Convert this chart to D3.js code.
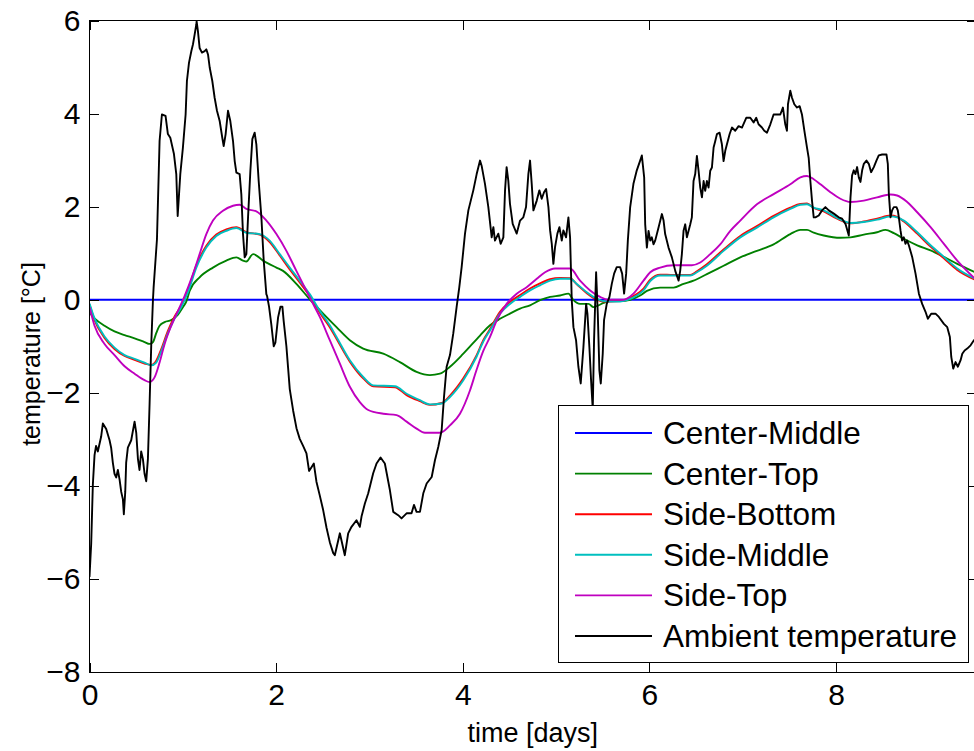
<!DOCTYPE html>
<html>
<head>
<meta charset="utf-8">
<script src="https://cdn.jsdelivr.net/npm/d3@7"></script>
<style>
  body { margin: 0; background: #fff; }
  svg { display: block; }
  text { font-family: "Liberation Sans", Arial, Helvetica, sans-serif; fill: #000; }
</style>
</head>
<body>
<svg id="chart" width="974" height="751"></svg>
<script>
// Axis ticks
const xTicks = [0, 2, 4, 6, 8];
const yTicks = [-8, -6, -4, -2, 0, 2, 4, 6];

// Series names (legend order = drawing order)
const seriesNames = ["Center-Middle", "Center-Top", "Side-Bottom", "Side-Middle", "Side-Top", "Ambient temperature"];

// Temperatures relative to the centre-middle sensor, [time in days, °C]
const centerMiddle = [[0, 0], [9.5, 0]];

const centerTop = [[0,-0.28],[0.054,-0.40],[0.161,-0.56],[0.268,-0.68],[0.376,-0.76],[0.483,-0.83],[0.59,-0.91],[0.644,-0.95],[0.68,-0.91],[0.715,-0.72],[0.751,-0.56],[0.805,-0.48],[0.876,-0.44],[0.948,-0.32],[1.001,-0.16],[1.037,-0.04],[1.073,0.19],[1.18,0.48],[1.323,0.69],[1.466,0.84],[1.574,0.91],[1.645,0.84],[1.681,0.82],[1.753,0.98],[1.86,0.84],[2.003,0.69],[2.074,0.62],[2.217,0.34],[2.36,0.01],[2.504,-0.30],[2.647,-0.59],[2.79,-0.87],[2.933,-1.05],[3.148,-1.16],[3.326,-1.34],[3.505,-1.55],[3.648,-1.62],[3.755,-1.59],[3.863,-1.44],[4.006,-1.16],[4.185,-0.77],[4.292,-0.55],[4.399,-0.41],[4.506,-0.30],[4.614,-0.19],[4.721,-0.12],[4.828,-0.01],[4.936,0.06],[5.043,0.09],[5.132,0.13],[5.186,-0.01],[5.257,-0.09],[5.347,-0.09],[5.401,-0.16],[5.454,-0.12],[5.508,-0.07],[5.579,-0.03],[5.686,-0.03],[5.794,0],[5.901,0.09],[5.973,0.19],[6.116,0.26],[6.259,0.26],[6.366,0.34],[6.473,0.41],[6.616,0.55],[6.795,0.73],[6.974,0.91],[7.152,1.05],[7.331,1.19],[7.51,1.41],[7.618,1.50],[7.689,1.50],[7.761,1.44],[7.868,1.38],[8.047,1.33],[8.155,1.34],[8.298,1.40],[8.44,1.45],[8.53,1.50],[8.62,1.43],[8.727,1.31],[8.87,1.17],[9.013,1.06],[9.156,0.92],[9.299,0.77],[9.5,0.58]];

const sideBottom = [[0,-0.10],[0.054,-0.44],[0.161,-0.82],[0.268,-1.06],[0.376,-1.21],[0.483,-1.29],[0.59,-1.37],[0.662,-1.40],[0.715,-1.31],[0.769,-1.06],[0.84,-0.67],[0.912,-0.36],[0.984,-0.12],[1.055,0.21],[1.145,0.74],[1.252,1.16],[1.359,1.40],[1.466,1.51],[1.574,1.56],[1.681,1.45],[1.824,1.40],[1.931,1.24],[2.039,0.95],[2.146,0.65],[2.253,0.37],[2.36,0.08],[2.468,-0.28],[2.575,-0.59],[2.647,-0.84],[2.79,-1.33],[2.933,-1.69],[3.04,-1.86],[3.273,-1.88],[3.398,-2.05],[3.541,-2.18],[3.648,-2.26],[3.774,-2.22],[3.863,-2.06],[4.006,-1.69],[4.149,-1.19],[4.22,-0.87],[4.292,-0.63],[4.399,-0.26],[4.506,-0.05],[4.614,0.10],[4.721,0.24],[4.828,0.35],[4.936,0.44],[5.043,0.47],[5.15,0.46],[5.222,0.33],[5.329,0.14],[5.436,0.00],[5.508,-0.04],[5.579,-0.04],[5.686,-0.03],[5.758,0.01],[5.865,0.12],[5.937,0.24],[6.009,0.43],[6.116,0.54],[6.259,0.53],[6.438,0.53],[6.509,0.61],[6.616,0.76],[6.795,1.08],[6.974,1.37],[7.152,1.58],[7.331,1.80],[7.51,1.98],[7.618,2.06],[7.689,2.07],[7.761,1.97],[7.868,1.90],[8.011,1.74],[8.155,1.64],[8.298,1.68],[8.44,1.74],[8.584,1.81],[8.655,1.78],[8.727,1.68],[8.87,1.42],[9.013,1.14],[9.156,0.89],[9.299,0.64],[9.5,0.42]];

const sideMiddle = [[0,-0.08],[0.054,-0.40],[0.161,-0.79],[0.268,-1.03],[0.376,-1.19],[0.483,-1.27],[0.59,-1.35],[0.662,-1.41],[0.715,-1.35],[0.769,-1.11],[0.84,-0.72],[0.912,-0.40],[0.984,-0.16],[1.055,0.16],[1.145,0.69],[1.252,1.12],[1.359,1.37],[1.466,1.48],[1.574,1.54],[1.681,1.44],[1.824,1.41],[1.931,1.27],[2.039,0.98],[2.146,0.69],[2.253,0.41],[2.36,0.12],[2.468,-0.24],[2.575,-0.55],[2.647,-0.80],[2.79,-1.30],[2.933,-1.66],[3.04,-1.84],[3.273,-1.86],[3.398,-2.02],[3.541,-2.16],[3.648,-2.25],[3.774,-2.23],[3.863,-2.09],[4.006,-1.73],[4.149,-1.22],[4.22,-0.90],[4.292,-0.66],[4.399,-0.30],[4.506,-0.09],[4.614,0.06],[4.721,0.20],[4.828,0.31],[4.936,0.41],[5.043,0.45],[5.15,0.45],[5.222,0.34],[5.329,0.16],[5.436,0.02],[5.508,-0.03],[5.579,-0.04],[5.686,-0.04],[5.758,-0.01],[5.865,0.09],[5.937,0.20],[6.009,0.40],[6.116,0.52],[6.259,0.52],[6.438,0.52],[6.509,0.59],[6.616,0.73],[6.795,1.05],[6.974,1.34],[7.152,1.55],[7.331,1.77],[7.51,1.95],[7.618,2.04],[7.689,2.05],[7.761,1.98],[7.868,1.92],[8.011,1.76],[8.155,1.65],[8.298,1.67],[8.44,1.72],[8.584,1.79],[8.655,1.77],[8.727,1.70],[8.87,1.45],[9.013,1.17],[9.156,0.92],[9.299,0.67],[9.5,0.44]];

const sideTop = [[0,-0.16],[0.054,-0.56],[0.161,-0.95],[0.268,-1.19],[0.376,-1.43],[0.483,-1.59],[0.59,-1.73],[0.644,-1.77],[0.697,-1.67],[0.751,-1.35],[0.805,-0.95],[0.876,-0.56],[0.948,-0.24],[1.019,0.08],[1.109,0.55],[1.18,0.98],[1.252,1.41],[1.323,1.70],[1.43,1.91],[1.538,2.02],[1.609,2.04],[1.681,1.95],[1.788,1.90],[1.896,1.70],[2.003,1.41],[2.11,1.05],[2.217,0.62],[2.325,0.19],[2.396,-0.09],[2.468,-0.37],[2.575,-0.87],[2.682,-1.37],[2.79,-1.87],[2.897,-2.20],[2.987,-2.37],[3.148,-2.45],[3.291,-2.48],[3.398,-2.62],[3.505,-2.77],[3.594,-2.86],[3.755,-2.86],[3.863,-2.70],[3.97,-2.45],[4.077,-1.95],[4.149,-1.50],[4.22,-1.10],[4.292,-0.80],[4.363,-0.45],[4.47,-0.09],[4.578,0.13],[4.685,0.27],[4.793,0.45],[4.882,0.59],[4.989,0.67],[5.15,0.67],[5.257,0.41],[5.365,0.20],[5.472,0.06],[5.561,0],[5.722,0],[5.829,0.13],[5.937,0.41],[6.009,0.59],[6.116,0.69],[6.259,0.74],[6.455,0.74],[6.545,0.80],[6.652,0.98],[6.759,1.19],[6.867,1.48],[6.974,1.70],[7.152,2.05],[7.331,2.27],[7.51,2.48],[7.618,2.63],[7.689,2.66],[7.761,2.59],[7.833,2.48],[7.94,2.31],[8.047,2.17],[8.155,2.10],[8.298,2.13],[8.44,2.20],[8.584,2.26],[8.655,2.24],[8.762,2.10],[8.87,1.88],[9.013,1.56],[9.156,1.20],[9.299,0.84],[9.5,0.43]];

const ambient = [[0,-5.96],[0.01,-5.56],[0.018,-5.25],[0.036,-3.97],[0.054,-3.34],[0.07,-3.14],[0.089,-3.26],[0.125,-2.94],[0.143,-2.66],[0.179,-2.78],[0.215,-3.02],[0.232,-3.18],[0.25,-3.5],[0.268,-3.74],[0.286,-3.82],[0.304,-3.66],[0.322,-3.86],[0.34,-4.13],[0.358,-4.29],[0.368,-4.61],[0.383,-4.13],[0.393,-3.5],[0.411,-3.18],[0.447,-3.02],[0.483,-2.62],[0.501,-2.86],[0.519,-3.42],[0.536,-3.66],[0.554,-3.26],[0.572,-3.42],[0.59,-3.74],[0.608,-3.9],[0.626,-3.42],[0.644,-2.23],[0.662,-0.95],[0.68,0],[0.687,0.26],[0.723,1.30],[0.751,3.41],[0.776,3.98],[0.815,3.95],[0.84,3.56],[0.866,3.48],[0.905,3.13],[0.93,2.70],[0.945,1.80],[0.973,2.70],[1.001,3.27],[1.03,3.98],[1.044,4.70],[1.066,5.09],[1.091,5.34],[1.109,5.49],[1.127,5.70],[1.145,5.92],[1.148,5.98],[1.162,5.77],[1.18,5.41],[1.205,5.31],[1.234,5.34],[1.252,5.38],[1.27,5.27],[1.288,4.99],[1.316,4.70],[1.341,4.34],[1.366,4.06],[1.395,3.84],[1.423,3.48],[1.438,3.30],[1.459,3.56],[1.484,4.06],[1.509,3.84],[1.538,3.41],[1.556,2.98],[1.574,2.73],[1.609,2.70],[1.627,2.27],[1.645,1.41],[1.663,0.91],[1.681,0.98],[1.699,1.77],[1.724,2.77],[1.745,3.45],[1.77,3.59],[1.788,3.34],[1.813,2.55],[1.842,1.77],[1.867,0.84],[1.895,0.12],[1.903,0.08],[1.924,-0.15],[1.949,-0.54],[1.974,-1.0],[1.992,-0.92],[2.021,-0.38],[2.046,-0.15],[2.067,-0.15],[2.081,-0.46],[2.11,-1.0],[2.128,-1.46],[2.146,-1.92],[2.182,-2.38],[2.218,-2.76],[2.253,-2.99],[2.289,-3.14],[2.325,-3.3],[2.353,-3.68],[2.379,-3.6],[2.404,-3.52],[2.432,-3.91],[2.468,-4.21],[2.504,-4.52],[2.54,-4.9],[2.575,-5.21],[2.611,-5.44],[2.629,-5.49],[2.683,-5.02],[2.736,-5.49],[2.772,-5.02],[2.808,-4.88],[2.861,-4.74],[2.897,-4.88],[2.915,-4.66],[2.951,-4.38],[2.987,-4.16],[3.04,-3.73],[3.076,-3.52],[3.119,-3.39],[3.165,-3.52],[3.219,-4.09],[3.255,-4.56],[3.308,-4.63],[3.344,-4.7],[3.398,-4.59],[3.451,-4.59],[3.477,-4.41],[3.505,-4.56],[3.541,-4.56],[3.577,-4.16],[3.613,-3.95],[3.667,-3.81],[3.702,-3.45],[3.738,-3.16],[3.774,-2.8],[3.799,-2.09],[3.827,-1.44],[3.863,-1.19],[3.898,-0.73],[3.934,-0.16],[3.963,0.27],[3.988,0.7],[4.024,1.42],[4.06,1.92],[4.113,2.35],[4.149,2.7],[4.185,2.99],[4.202,2.88],[4.238,2.49],[4.274,1.99],[4.31,1.34],[4.328,1.56],[4.345,1.27],[4.381,1.42],[4.406,1.2],[4.435,1.34],[4.453,2.35],[4.47,2.85],[4.488,2.56],[4.506,2.06],[4.535,1.63],[4.578,1.42],[4.614,1.7],[4.649,1.77],[4.678,1.99],[4.703,2.7],[4.721,2.99],[4.739,2.49],[4.757,1.92],[4.793,2.13],[4.821,2.35],[4.846,2.17],[4.871,2.31],[4.893,2.38],[4.918,1.99],[4.936,1.49],[4.954,1.2],[4.971,0.77],[4.989,1.13],[5.014,1.42],[5.036,1.56],[5.061,1.27],[5.078,1.49],[5.107,1.34],[5.132,1.77],[5.15,1.34],[5.168,-0.01],[5.186,-0.59],[5.214,-0.87],[5.239,-1.44],[5.264,-1.8],[5.293,-1.02],[5.322,-0.09],[5.336,-0.3],[5.357,-1.02],[5.375,-1.73],[5.393,-2.35],[5.407,-0.87],[5.429,0.59],[5.447,-0.3],[5.464,-1.52],[5.479,-1.8],[5.5,-1.16],[5.514,-0.44],[5.543,-0.09],[5.572,0.06],[5.597,0.34],[5.622,0.56],[5.65,0.7],[5.686,0.7],[5.708,0.56],[5.729,0.13],[5.751,0.56],[5.769,1.27],[5.794,1.99],[5.829,2.49],[5.865,2.78],[5.901,2.99],[5.919,3.1],[5.944,2.63],[5.955,1.62],[5.973,1.12],[5.991,1.48],[6.009,1.27],[6.026,1.34],[6.044,1.19],[6.062,1.27],[6.098,1.55],[6.134,1.84],[6.152,1.7],[6.169,1.41],[6.205,1.12],[6.241,0.91],[6.277,0.62],[6.313,0.41],[6.33,0.62],[6.348,0.98],[6.366,1.48],[6.384,1.62],[6.402,1.34],[6.438,1.62],[6.455,1.77],[6.473,2.55],[6.491,2.7],[6.509,3.09],[6.527,2.77],[6.545,2.41],[6.563,2.2],[6.581,2.55],[6.598,2.34],[6.616,2.55],[6.634,2.41],[6.652,2.77],[6.67,2.84],[6.688,3.27],[6.706,3.41],[6.724,3.56],[6.752,3.59],[6.777,3.34],[6.795,2.98],[6.813,3.2],[6.831,3.34],[6.86,3.56],[6.885,3.7],[6.92,3.63],[6.956,3.73],[6.992,3.7],[7.038,3.91],[7.081,3.91],[7.117,3.81],[7.145,3.91],[7.17,3.77],[7.206,3.7],[7.231,3.63],[7.26,3.59],[7.296,3.77],[7.331,3.98],[7.367,3.98],[7.403,3.98],[7.431,4.13],[7.456,3.77],[7.474,3.63],[7.485,4.2],[7.51,4.49],[7.528,4.34],[7.553,4.2],[7.582,4.13],[7.61,4.16],[7.635,3.98],[7.661,3.63],[7.689,3.27],[7.707,3.05],[7.725,2.55],[7.743,2.12],[7.761,1.77],[7.779,1.77],[7.815,1.81],[7.85,1.92],[7.886,1.99],[7.922,1.92],[7.976,1.85],[8.029,1.77],[8.065,1.74],[8.101,1.63],[8.137,1.38],[8.155,2.2],[8.172,2.67],[8.19,2.78],[8.208,2.7],[8.226,2.85],[8.244,2.63],[8.262,2.53],[8.28,2.78],[8.298,2.92],[8.326,2.99],[8.351,2.92],[8.376,2.74],[8.405,2.85],[8.433,2.99],[8.458,3.1],[8.494,3.12],[8.541,3.12],[8.555,2.92],[8.566,2.27],[8.584,1.77],[8.601,1.92],[8.619,1.99],[8.648,1.99],[8.662,1.92],[8.673,1.77],[8.691,1.49],[8.708,1.27],[8.726,1.34],[8.744,1.2],[8.762,1.27],[8.78,1.17],[8.816,0.92],[8.852,0.56],[8.888,0.13],[8.923,-0.09],[8.959,-0.26],[8.984,-0.41],[9.02,-0.3],[9.066,-0.3],[9.102,-0.37],[9.156,-0.52],[9.192,-0.59],[9.22,-0.8],[9.235,-1.23],[9.256,-1.48],[9.281,-1.34],[9.306,-1.44],[9.335,-1.3],[9.353,-1.16],[9.378,-1.09],[9.406,-1.05],[9.442,-0.98],[9.478,-0.87],[9.5,-0.84]];

const seriesColors = ["#0000ff", "#008000", "#ff0000", "#00bfbf", "#bf00bf", "#000000"];
const seriesData = [centerMiddle, centerTop, sideBottom, sideMiddle, sideTop, ambient];

// Layout
const plot = { left: 89.5, right: 976, top: 20.5, bottom: 672 };

const svg = d3.select("#chart");

const x = d3.scaleLinear().domain([0, 9.5]).range([plot.left, plot.right]);
const y = d3.scaleLinear().domain([-8, 6]).range([plot.bottom, plot.top]);

svg.append("defs").append("clipPath").attr("id", "plot-clip")
  .append("rect")
  .attr("x", plot.left).attr("y", plot.top)
  .attr("width", plot.right - plot.left).attr("height", plot.bottom - plot.top);

// Lines
const smoothLine = d3.line().x(d => x(d[0])).y(d => y(d[1])).curve(d3.curveMonotoneX);
const rawLine = d3.line().x(d => x(d[0])).y(d => y(d[1]));

const lineWidth = 1.9;
const lines = svg.append("g").attr("clip-path", "url(#plot-clip)");
seriesData.forEach((data, i) => {
  lines.append("path")
    .datum(data)
    .attr("fill", "none")
    .attr("stroke", seriesColors[i])
    .attr("stroke-width", lineWidth)
    .attr("stroke-linejoin", "round")
    .attr("d", i === 5 ? rawLine : smoothLine);
});

// Axes: ticks point inward on all four sides
const tickLen = 9;
const axisFont = "30px";

const gBottom = svg.append("g").attr("transform", `translate(0,${plot.bottom})`)
  .call(d3.axisBottom(x).tickValues(xTicks).tickSize(-tickLen).tickPadding(12).tickFormat(d3.format("d")));
const gTop = svg.append("g").attr("transform", `translate(0,${plot.top})`)
  .call(d3.axisTop(x).tickValues(xTicks).tickSize(-tickLen).tickFormat(""));
const gLeft = svg.append("g").attr("transform", `translate(${plot.left},0)`)
  .call(d3.axisLeft(y).tickValues(yTicks).tickSize(-tickLen).tickPadding(9).tickFormat(d3.format("d")));
const gRight = svg.append("g").attr("transform", `translate(${plot.right},0)`)
  .call(d3.axisRight(y).tickValues(yTicks).tickSize(-tickLen).tickFormat(""));

[gBottom, gTop, gLeft, gRight].forEach(g => {
  g.select(".domain").remove();
  g.selectAll(".tick line").attr("stroke", "#000").attr("stroke-width", 1).attr("shape-rendering", "crispEdges");
  g.selectAll(".tick text").attr("font-size", axisFont).attr("fill", "#000")
    .style("font-family", '"Liberation Sans", Arial, sans-serif');
});

// Axes box
svg.append("rect")
  .attr("x", plot.left).attr("y", plot.top)
  .attr("width", plot.right - plot.left).attr("height", plot.bottom - plot.top)
  .attr("fill", "none").attr("stroke", "#000").attr("stroke-width", 1)
  .attr("shape-rendering", "crispEdges");

// Axis titles
svg.append("text")
  .attr("x", (plot.left + plot.right) / 2).attr("y", 742)
  .attr("text-anchor", "middle").attr("font-size", "27px")
  .text("time [days]");

svg.append("text")
  .attr("transform", `translate(40,354) rotate(-90)`)
  .attr("text-anchor", "middle").attr("font-size", "25px")
  .text("temperature [°C]");

// Legend
const legend = { x: 558.5, y: 405.5, w: 410, h: 257, row0: 433, step: 40.6 };
const lg = svg.append("g");
lg.append("rect")
  .attr("x", legend.x).attr("y", legend.y).attr("width", legend.w).attr("height", legend.h)
  .attr("fill", "#fff").attr("stroke", "#000").attr("stroke-width", 1)
  .attr("shape-rendering", "crispEdges");

seriesNames.forEach((name, i) => {
  const cy = legend.row0 + i * legend.step;
  lg.append("line")
    .attr("x1", 575).attr("x2", 652).attr("y1", cy).attr("y2", cy)
    .attr("stroke", seriesColors[i]).attr("stroke-width", lineWidth);
  lg.append("text")
    .attr("x", 663).attr("y", cy + 11)
    .attr("font-size", "31.5px")
    .text(name);
});
</script>
</body>
</html>
